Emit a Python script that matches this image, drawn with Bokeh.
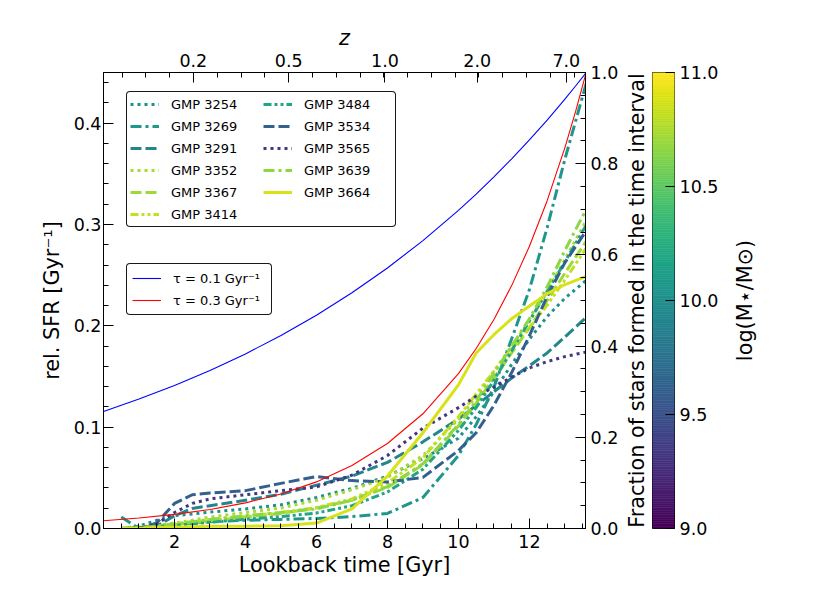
import numpy as np
from bokeh.plotting import figure
from bokeh.layouts import row
from bokeh.models import (Range1d, LinearAxis, FixedTicker, PrintfTickFormatter, Legend,
                          LegendItem)
from bokeh.palettes import Viridis256
from bokeh.embed import file_html
from bokeh.resources import INLINE

# ---------------- data ----------------
t_grid = [0.5, 1, 1.5, 2, 2.5, 3, 4, 5, 6, 7, 8, 9, 10, 10.5, 11, 11.5, 12, 12.5, 13, 13.6]

galaxies = ["GMP 3254", "GMP 3269", "GMP 3291", "GMP 3352", "GMP 3367", "GMP 3414",
            "GMP 3484", "GMP 3534", "GMP 3565", "GMP 3639", "GMP 3664"]
log_mass = [10.0, 10.05, 9.92, 10.74, 10.72, 10.82, 10.18, 9.62, 9.32, 10.66, 10.88]
styles = ["dotted", "dashdot", "dashed", "dotted", "dashed", "dashdotdot",
          "dashdotdot", "dashed", "dotted", "dashdot", "solid"]

frac_3254 = [0.0, 0.005, 0.018, 0.028, 0.032, 0.036, 0.043, 0.052, 0.068, 0.088, 0.115, 0.153, 0.198, 0.245, 0.30, 0.36, 0.415, 0.465, 0.505, 0.544]
frac_3269 = [0.025, 0.0, 0.003, 0.008, 0.012, 0.015, 0.018, 0.02, 0.022, 0.026, 0.033, 0.068, 0.16, 0.228, 0.31, 0.416, 0.524, 0.66, 0.81, 0.976]
frac_3291 = [0.0, 0.0, 0.005, 0.028, 0.044, 0.05, 0.062, 0.075, 0.095, 0.115, 0.145, 0.19, 0.24, 0.27, 0.30, 0.33, 0.357, 0.385, 0.42, 0.463]
frac_3352 = [0.0, 0.003, 0.007, 0.012, 0.018, 0.025, 0.035, 0.045, 0.062, 0.085, 0.112, 0.16, 0.24, 0.29, 0.345, 0.40, 0.455, 0.52, 0.59, 0.675]
frac_3367 = [0.0, 0.002, 0.005, 0.009, 0.013, 0.017, 0.025, 0.033, 0.045, 0.062, 0.09, 0.14, 0.225, 0.275, 0.33, 0.385, 0.44, 0.50, 0.56, 0.63]
frac_3414 = [0.0, 0.003, 0.006, 0.01, 0.014, 0.019, 0.027, 0.035, 0.046, 0.065, 0.10, 0.155, 0.245, 0.295, 0.345, 0.395, 0.44, 0.49, 0.545, 0.615]
frac_3484 = [0.0, 0.002, 0.004, 0.007, 0.01, 0.014, 0.02, 0.026, 0.034, 0.05, 0.08, 0.13, 0.215, 0.265, 0.325, 0.39, 0.455, 0.52, 0.585, 0.665]
frac_3534 = [0.0, 0.0, 0.012, 0.055, 0.074, 0.078, 0.083, 0.099, 0.114, 0.105, 0.102, 0.112, 0.171, 0.21, 0.27, 0.342, 0.423, 0.509, 0.583, 0.653]
frac_3565 = [0.0, 0.0, 0.01, 0.035, 0.055, 0.065, 0.074, 0.083, 0.091, 0.117, 0.16, 0.22, 0.265, 0.29, 0.31, 0.332, 0.352, 0.366, 0.377, 0.387]
frac_3639 = [0.0, 0.002, 0.005, 0.01, 0.015, 0.02, 0.028, 0.035, 0.043, 0.062, 0.092, 0.142, 0.228, 0.28, 0.34, 0.40, 0.46, 0.53, 0.61, 0.70]
frac_3664 = [0.0, 0.0, 0.002, 0.003, 0.004, 0.005, 0.005, 0.006, 0.012, 0.043, 0.115, 0.21, 0.315, 0.385, 0.425, 0.46, 0.488, 0.515, 0.535, 0.553]
fractions = [frac_3254, frac_3269, frac_3291, frac_3352, frac_3367, frac_3414,
             frac_3484, frac_3534, frac_3565, frac_3639, frac_3664]

tau_t = [0, 1, 2, 3, 4, 5, 6, 7, 8, 9, 10, 10.5, 11, 11.5, 12, 12.5, 13, 13.3, 13.6]
sfr_tau01 = [0.1155, 0.1277, 0.1411, 0.1559, 0.1723, 0.1904, 0.2105, 0.2326, 0.2571, 0.2841,
             0.3140, 0.3300, 0.3470, 0.3648, 0.3835, 0.4031, 0.4238, 0.4367, 0.45]
sfr_tau03 = [0.0076, 0.0103, 0.0139, 0.0187, 0.0253, 0.0341, 0.0460, 0.0621, 0.0839, 0.1132,
             0.1528, 0.1776, 0.2063, 0.2397, 0.2785, 0.3235, 0.3759, 0.4113, 0.45]
tau_labels = ["τ = 0.1 Gyr⁻¹", "τ = 0.3 Gyr⁻¹"]

x_ticks = [2, 4, 6, 8, 10, 12]
sfr_ticks = [0.0, 0.1, 0.2, 0.3, 0.4]
frac_ticks = [0.0, 0.2, 0.4, 0.6, 0.8, 1.0]
z_labels = ["0.2", "0.5", "1.0", "2.0", "7.0"]
z_lookback = [2.53, 5.22, 7.93, 10.53, 13.04]
mass_ticks = [9.0, 9.5, 10.0, 10.5, 11.0]
mass_low, mass_high = 9.0, 11.0
frac_title = "Fraction of stars formed in the time interval"
mass_title = "log(M⋆/M⊙)"

# ---------------- styling ----------------
FONT = "DejaVu Sans"
DASH = {"dotted": "3 4", "dashed": "11 4", "dashdot": "11 4 3 4",
        "dashdotdot": "8 3 3 3 3 3", "solid": "solid"}
TOP, BOTTOM, FH = 72, 68, 456


def style_axis(ax):
    ax.major_tick_in = 10
    ax.major_tick_out = 0
    ax.minor_tick_in = 5
    ax.minor_tick_out = 0
    ax.axis_line_color = "black"
    ax.major_tick_line_color = "black"
    ax.minor_tick_line_color = "black"
    ax.major_label_text_font = FONT
    ax.major_label_text_font_size = "17.5px"
    ax.major_label_text_color = "black"
    ax.axis_label_text_font = FONT
    ax.axis_label_text_font_size = "20.8px"
    ax.axis_label_text_font_style = "normal"
    ax.axis_label_text_color = "black"


def title_axis(label, standoff):
    # an axis that only carries a (bottom-to-top) title
    ax = LinearAxis(ticker=FixedTicker(ticks=[]), axis_label=label)
    style_axis(ax)
    ax.axis_line_color = None
    ax.major_tick_line_color = None
    ax.minor_tick_line_color = None
    ax.axis_label_standoff = standoff
    return ax


# ---------------- main panel ----------------
p = figure(frame_width=482, frame_height=FH,
           x_range=Range1d(0, 13.58), y_range=Range1d(0, 0.45),
           output_backend="svg", toolbar_location=None,
           min_border_left=103, min_border_right=36, min_border_top=TOP, min_border_bottom=BOTTOM,
           background_fill_color="white", border_fill_color="white",
           outline_line_color="black")
p.extra_y_ranges = {"frac": Range1d(0, 1.0)}
p.grid.visible = False

xa = p.xaxis[0]
style_axis(xa)
xa.ticker = FixedTicker(ticks=x_ticks, minor_ticks=[round(v, 2) for v in np.arange(0.5, 13.6, 0.5)])
xa.axis_label = "Lookback time [Gyr]"
xa.major_label_standoff = 6
xa.axis_label_standoff = 2

ya = p.yaxis[0]
style_axis(ya)
ya.ticker = FixedTicker(ticks=sfr_ticks, minor_ticks=[round(v, 3) for v in np.arange(0, 0.451, 0.02)])
ya.formatter = PrintfTickFormatter(format="%.1f")
ya.axis_label = "rel. SFR [Gyr⁻¹]"
ya.major_label_standoff = 2
ya.axis_label_standoff = 7

top_minor = [round(0.527 + k * 0.670, 3) for k in range(20)]
ax_top = LinearAxis(ticker=FixedTicker(ticks=z_lookback, minor_ticks=top_minor),
                    major_label_overrides={v: s for v, s in zip(z_lookback, z_labels)},
                    axis_label="z")
style_axis(ax_top)
ax_top.axis_label_text_font_style = "italic"
ax_top.major_label_standoff = 6
ax_top.axis_label_standoff = 1
p.add_layout(ax_top, "above")

ax_right = LinearAxis(y_range_name="frac",
                      ticker=FixedTicker(ticks=frac_ticks,
                                         minor_ticks=[round(v, 3) for v in np.arange(0, 1.001, 0.05)]),
                      formatter=PrintfTickFormatter(format="%.1f"))
style_axis(ax_right)
ax_right.major_label_standoff = 5
p.add_layout(ax_right, "right")

items = []
for name, m, st, fr in zip(galaxies, log_mass, styles, fractions):
    idx = int(round((m - mass_low) / (mass_high - mass_low) * 255))
    idx = max(0, min(255, idx))
    col = Viridis256[idx]
    r = p.line(t_grid, fr, y_range_name="frac", line_color=col, line_width=3,
               line_dash=DASH[st], line_cap="butt", line_join="round")
    items.append(LegendItem(label=name, renderers=[r]))

r1 = p.line(tau_t, sfr_tau01, line_color="blue", line_width=1.1)
r2 = p.line(tau_t, sfr_tau03, line_color="red", line_width=1.1)


def style_legend(leg):
    leg.label_text_font = FONT
    leg.label_text_font_size = "13px"
    leg.label_text_color = "black"
    leg.glyph_width = 29
    leg.glyph_height = 18
    leg.label_height = 18
    leg.label_standoff = 12
    leg.margin = 0
    leg.border_line_color = "black"
    leg.border_line_width = 1
    leg.border_line_alpha = 0.9
    leg.background_fill_color = "white"
    leg.background_fill_alpha = 1.0
    if "border_radius" in Legend.properties():
        leg.border_radius = 4


leg1 = Legend(items=items, ncols=2, location=(23, 301))
style_legend(leg1)
leg1.padding = 3
leg1.spacing = 4
leg1.label_width = 88
p.add_layout(leg1)

leg2 = Legend(items=[LegendItem(label=tau_labels[0], renderers=[r1]),
                     LegendItem(label=tau_labels[1], renderers=[r2])],
              location=(23, 213))
style_legend(leg2)
leg2.padding = 5
leg2.spacing = 4
leg2.label_width = 93
p.add_layout(leg2)

# ---------------- colour bar panel ----------------
pc = figure(frame_width=22, frame_height=FH,
            x_range=Range1d(0, 1), y_range=Range1d(mass_low, mass_high),
            output_backend="svg", toolbar_location=None,
            x_axis_location=None, y_axis_location="right",
            min_border_left=30, min_border_right=48, min_border_top=TOP, min_border_bottom=BOTTOM,
            background_fill_color="white", border_fill_color="white",
            outline_line_color="black")
pc.grid.visible = False
edges = np.linspace(mass_low, mass_high, len(Viridis256) + 1)
pc.quad(left=0, right=1, bottom=edges[:-1], top=edges[1:],
        fill_color=list(Viridis256), line_color=list(Viridis256), line_width=0.6)
cba = pc.yaxis[0]
style_axis(cba)
cba.ticker = FixedTicker(ticks=mass_ticks)
cba.formatter = PrintfTickFormatter(format="%.1f")
cba.major_tick_in = 9
cba.major_label_standoff = 5
cba.axis_line_color = None
pc.add_layout(title_axis(frac_title, 4), "left")

# ---------------- colour bar title panel ----------------
pt = figure(frame_width=1, frame_height=FH,
            x_range=Range1d(0, 1), y_range=Range1d(0, 1),
            output_backend="svg", toolbar_location=None,
            x_axis_location=None, y_axis_location=None,
            min_border_left=36, min_border_right=2, min_border_top=TOP, min_border_bottom=BOTTOM,
            background_fill_color="white", border_fill_color="white",
            outline_line_color=None)
pt.grid.visible = False
pt.add_layout(title_axis(mass_title, 2), "left")

layout = row(p, pc, pt, spacing=0)
open("out.html", "w").write(file_html(layout, INLINE))
